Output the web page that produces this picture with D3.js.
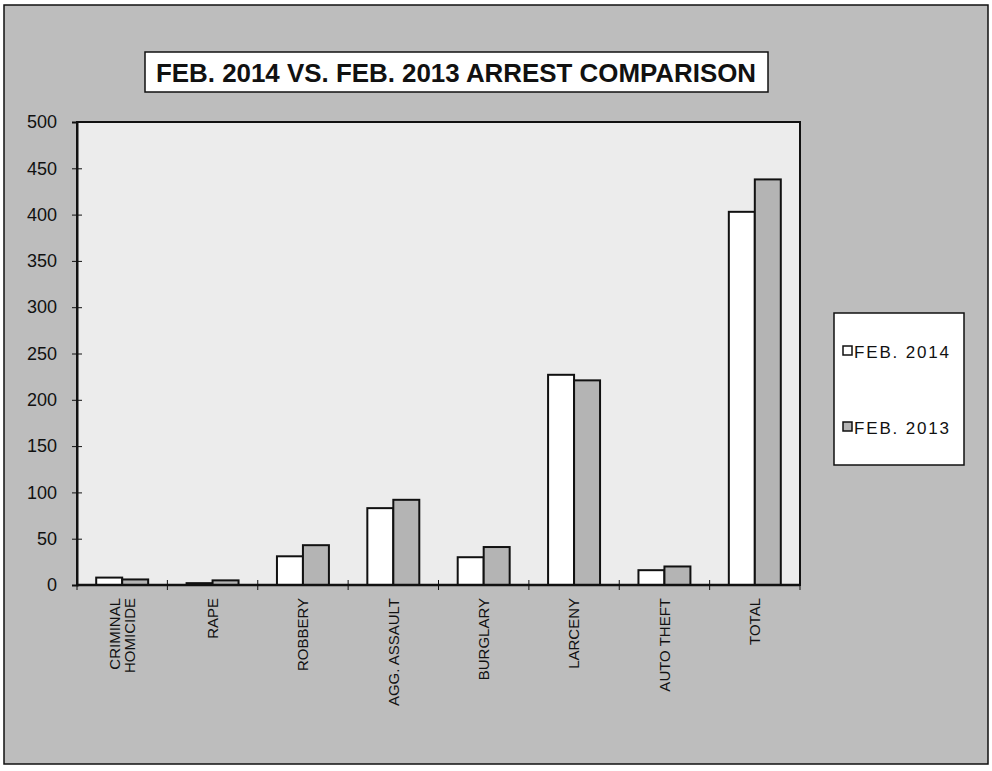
<!DOCTYPE html>
<html>
<head>
<meta charset="utf-8">
<script src="https://cdn.jsdelivr.net/npm/d3@7"></script>
<style>
  body { margin: 0; background: #fff; }
  svg { display: block; }
</style>
</head>
<body>
<script>
const width = 992;
const height = 771;

// data
const categories = ["CRIMINAL HOMICIDE", "RAPE", "ROBBERY", "AGG. ASSAULT", "BURGLARY", "LARCENY", "AUTO THEFT", "TOTAL"];
const categoryLines = [["CRIMINAL", "HOMICIDE"], ["RAPE"], ["ROBBERY"], ["AGG. ASSAULT"], ["BURGLARY"], ["LARCENY"], ["AUTO THEFT"], ["TOTAL"]];
const feb2014 = [8, 2, 31, 83, 30, 227, 16, 403];
const feb2013 = [6, 5, 43, 92, 41, 221, 20, 438];
const seriesNames = ["FEB. 2014", "FEB. 2013"];
const yTicks = [0, 50, 100, 150, 200, 250, 300, 350, 400, 450, 500];
const titleText = "FEB. 2014 VS. FEB. 2013 ARREST COMPARISON";

const colors = ["#ffffff", "#b4b4b4"];
const plot = { left: 77, top: 122, right: 800, bottom: 585 };

const svg = d3.select("body")
  .append("svg")
  .attr("width", width)
  .attr("height", height);

// outer chart area
svg.append("rect")
  .attr("x", 4).attr("y", 5)
  .attr("width", 984).attr("height", 759)
  .attr("fill", "#bdbdbd")
  .attr("stroke", "#111")
  .attr("stroke-width", 1.5);

// title box
svg.append("rect")
  .attr("x", 145).attr("y", 52)
  .attr("width", 623).attr("height", 40)
  .attr("fill", "#fff")
  .attr("stroke", "#111")
  .attr("stroke-width", 1.5);

svg.append("text")
  .attr("x", 456).attr("y", 82)
  .attr("text-anchor", "middle")
  .attr("textLength", 600)
  .attr("lengthAdjust", "spacingAndGlyphs")
  .style("font-family", "'Liberation Sans Narrow', 'Liberation Sans', Arial, sans-serif")
  .style("font-weight", "bold")
  .style("font-size", "25px")
  .style("fill", "#111")
  .text(titleText);

// plot area
svg.append("rect")
  .attr("x", plot.left).attr("y", plot.top)
  .attr("width", plot.right - plot.left).attr("height", plot.bottom - plot.top)
  .attr("fill", "#ececec")
  .attr("stroke", "#111")
  .attr("stroke-width", 2);

const x0 = d3.scaleBand()
  .domain(categories)
  .range([plot.left, plot.right])
  .paddingInner(0.425)
  .paddingOuter(0.2125);

const x1 = d3.scaleBand()
  .domain(seriesNames)
  .range([0, x0.bandwidth()]);

const y = d3.scaleLinear()
  .domain([0, 500])
  .range([plot.bottom, plot.top]);

const rows = categories.map((c, i) => ({ cat: c, values: [feb2014[i], feb2013[i]] }));

const groups = svg.selectAll("g.cat")
  .data(rows)
  .enter()
  .append("g")
  .attr("class", "cat")
  .attr("transform", d => "translate(" + x0(d.cat) + ",0)");

groups.selectAll("rect")
  .data(d => d.values.map((v, i) => ({ name: seriesNames[i], value: v, i: i })))
  .enter()
  .append("rect")
  .attr("x", d => x1(d.name))
  .attr("y", d => y(d.value))
  .attr("width", x1.bandwidth())
  .attr("height", d => y(0) - y(d.value))
  .attr("fill", d => colors[d.i])
  .attr("stroke", "#111")
  .attr("stroke-width", 2);

// y axis
const yAxis = svg.append("g")
  .attr("transform", "translate(" + plot.left + ",0)")
  .call(d3.axisLeft(y).tickValues(yTicks).tickSize(5).tickPadding(15));

yAxis.select(".domain").attr("stroke", "#111").attr("stroke-width", 2);
yAxis.selectAll(".tick line").attr("x1", 5).attr("x2", -5).attr("stroke", "#111");
yAxis.selectAll(".tick text")
  .style("font-family", "'Liberation Sans', Arial, sans-serif")
  .style("font-size", "18px")
  .style("fill", "#111");

// x axis baseline with ticks at the band edges
const xAxis = svg.append("g");
xAxis.append("line")
  .attr("x1", plot.left).attr("x2", plot.right)
  .attr("y1", y(0)).attr("y2", y(0))
  .attr("stroke", "#111")
  .attr("stroke-width", 2.5);

const edges = categories.map(c => x0(c) - x0.step() * x0.paddingInner() / 2);
edges.push(plot.right);
xAxis.selectAll("line.tick")
  .data(edges)
  .enter()
  .append("line")
  .attr("class", "tick")
  .attr("x1", d => d).attr("x2", d => d)
  .attr("y1", y(0) - 5).attr("y2", y(0) + 5)
  .attr("stroke", "#111");

const labels = svg.selectAll("g.xlabel")
  .data(categoryLines)
  .enter()
  .append("g")
  .attr("class", "xlabel")
  .attr("transform", (d, i) => "translate(" + (x0(categories[i]) + x0.bandwidth() / 2) + "," + (y(0) + 13) + ") rotate(-90)");

labels.append("text")
  .attr("text-anchor", "end")
  .style("font-family", "'Liberation Sans', Arial, sans-serif")
  .style("font-size", "15px")
  .style("fill", "#111")
  .selectAll("tspan")
  .data(d => d.map((t, j) => ({ t: t, j: j, n: d.length })))
  .enter()
  .append("tspan")
  .attr("x", 0)
  .attr("dy", d => d.j === 0 ? (0.35 - (d.n - 1) * 0.53) + "em" : "1.06em")
  .text(d => d.t);

// legend
const legend = svg.append("g").attr("id", "legend");
legend.append("rect")
  .attr("x", 834).attr("y", 313)
  .attr("width", 130).attr("height", 152)
  .attr("fill", "#fff")
  .attr("stroke", "#111")
  .attr("stroke-width", 1.5);

const legendItems = legend.selectAll("g.item")
  .data(seriesNames)
  .enter()
  .append("g")
  .attr("class", "item")
  .attr("transform", (d, i) => "translate(843," + (351 + i * 76) + ")");

legendItems.append("rect")
  .attr("x", 0).attr("y", -5)
  .attr("width", 9).attr("height", 9)
  .attr("fill", (d, i) => colors[i])
  .attr("stroke", "#111")
  .attr("stroke-width", 1.5);

legendItems.append("text")
  .attr("x", 11).attr("y", 7)
  .attr("textLength", 95)
  .attr("lengthAdjust", "spacing")
  .style("font-family", "'Liberation Sans', Arial, sans-serif")
  .style("font-size", "17px")
  .style("fill", "#111")
  .text(d => d);
</script>
</body>
</html>
